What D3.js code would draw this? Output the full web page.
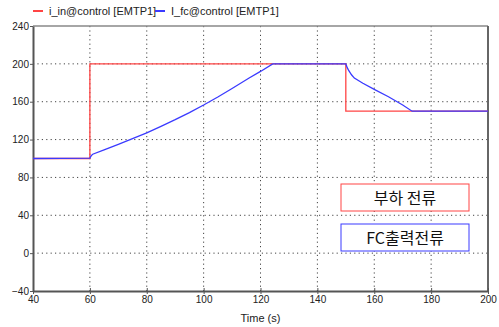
<!DOCTYPE html>
<html>
<head>
<meta charset="utf-8">
<script src="https://cdn.jsdelivr.net/npm/d3@7"></script>
<style>
  body { margin: 0; background: #fff; }
  svg { display: block; font-family: "Liberation Sans", Arial, sans-serif; }
  .grid line { stroke: #444; stroke-dasharray: 1.2 3.2; stroke-width: 1; }
  .tick text { fill: #222; font-size: 10px; }
</style>
</head>
<body>
<div id="chart"></div>
<script>
// series data
let inTime = [40, 60, 60, 150, 150, 200]
let inValue = [100, 100, 200, 200, 150, 150]

let fcTime = [40, 60, 60.5, 61, 65, 70, 75, 80, 85, 90, 95, 100, 105, 110, 116, 120, 124.3,
              150, 150.5, 151, 152, 153, 156, 160, 165, 170, 173.3, 200]
let fcValue = [100, 100.5, 103, 104.5, 109, 115, 121, 127, 134, 141, 148.5, 156.5, 165, 174, 185, 192, 200,
               200, 196, 193, 188.5, 185, 179.5, 173, 165.3, 156.5, 150, 150]

let xTicks = [40, 60, 80, 100, 120, 140, 160, 180, 200]
let yTicks = [-40, 0, 40, 80, 120, 160, 200, 240]

let legendNames = ["i_in@control [EMTP1]", "I_fc@control [EMTP1]"]
let seriesColors = ["#ff4444", "#3a3aff"]
let noteTexts = ["부하 전류", "FC출력전류"]

let W = 499, H = 327
let margin = {top: 26, right: 11, bottom: 36, left: 33}
let width = W - margin.left - margin.right
let height = H - margin.top - margin.bottom

let svg = d3.select("#chart").append("svg")
    .attr("width", W)
    .attr("height", H)

let g = svg.append("g")
    .attr("transform", "translate(" + margin.left + "," + margin.top + ")")

let x = d3.scaleLinear().domain([40, 200]).range([0, width])
let y = d3.scaleLinear().domain([-40, 240]).range([height, 0])

// dotted grid
g.append("g").attr("class", "grid")
    .selectAll("line").data(xTicks.slice(1, -1)).enter().append("line")
    .attr("x1", d => x(d)).attr("x2", d => x(d))
    .attr("y1", 0).attr("y2", height)
g.append("g").attr("class", "grid")
    .selectAll("line").data(yTicks.slice(1, -1)).enter().append("line")
    .attr("x1", 0).attr("x2", width)
    .attr("y1", d => y(d)).attr("y2", d => y(d))

// frame top / right
g.append("line").attr("x1", 0).attr("x2", width).attr("y1", 0).attr("y2", 0)
    .attr("stroke", "#888").attr("stroke-width", 1.5)
g.append("line").attr("x1", width).attr("x2", width).attr("y1", 0).attr("y2", height)
    .attr("stroke", "#666").attr("stroke-width", 2)

// axes
let xAxis = g.append("g")
    .attr("transform", "translate(0," + height + ")")
    .call(d3.axisBottom(x).tickValues(xTicks).tickSize(3).tickSizeOuter(0).tickPadding(2))
xAxis.select(".domain").attr("stroke", "#555").attr("stroke-width", 2)
xAxis.selectAll(".tick line").attr("stroke", "#555").attr("y1", -3)

let yAxis = g.append("g")
    .call(d3.axisLeft(y).tickValues(yTicks).tickSize(3).tickSizeOuter(0).tickPadding(1))
yAxis.select(".domain").attr("stroke", "#555").attr("stroke-width", 2)
yAxis.selectAll(".tick line").attr("stroke", "#555")

g.append("text")
    .attr("x", width / 2)
    .attr("y", height + 31)
    .attr("text-anchor", "middle")
    .style("font-size", "11px")
    .style("fill", "#222")
    .text("Time (s)")

// lines
let line = d3.line().x(d => x(d[0])).y(d => y(d[1]))
let inData = inTime.map((t, i) => [t, inValue[i]])
let fcData = fcTime.map((t, i) => [t, fcValue[i]])

g.append("path").datum(inData)
    .attr("d", line).attr("fill", "none")
    .attr("stroke", seriesColors[0]).attr("stroke-width", 1.3)
g.append("path").datum(fcData)
    .attr("d", line).attr("fill", "none")
    .attr("stroke", seriesColors[1]).attr("stroke-width", 1.3)

// legend on top
let legend = svg.append("g").attr("transform", "translate(33,11)")
let lx = [0, 122]
legendNames.forEach(function(name, i) {
    legend.append("line")
        .attr("x1", lx[i]).attr("x2", lx[i] + 10)
        .attr("y1", 0).attr("y2", 0)
        .attr("stroke", seriesColors[i]).attr("stroke-width", 2)
    legend.append("text")
        .attr("x", lx[i] + 16).attr("y", 4)
        .style("font-size", "11px").style("fill", "#222")
        .text(name)
})

// annotation boxes
let boxY = [184, 224]
noteTexts.forEach(function(t, i) {
    svg.append("rect")
        .attr("x", 341).attr("y", boxY[i])
        .attr("width", 128).attr("height", 27)
        .attr("fill", "#fff")
        .attr("stroke", seriesColors[i]).attr("stroke-width", 1)
    svg.append("text")
        .attr("x", 405).attr("y", boxY[i] + 19.5)
        .attr("text-anchor", "middle")
        .style("font-family", "'Noto Sans CJK KR', sans-serif")
        .style("font-size", "16px").style("fill", "#111")
        .text(t)
})
</script>
</body>
</html>
